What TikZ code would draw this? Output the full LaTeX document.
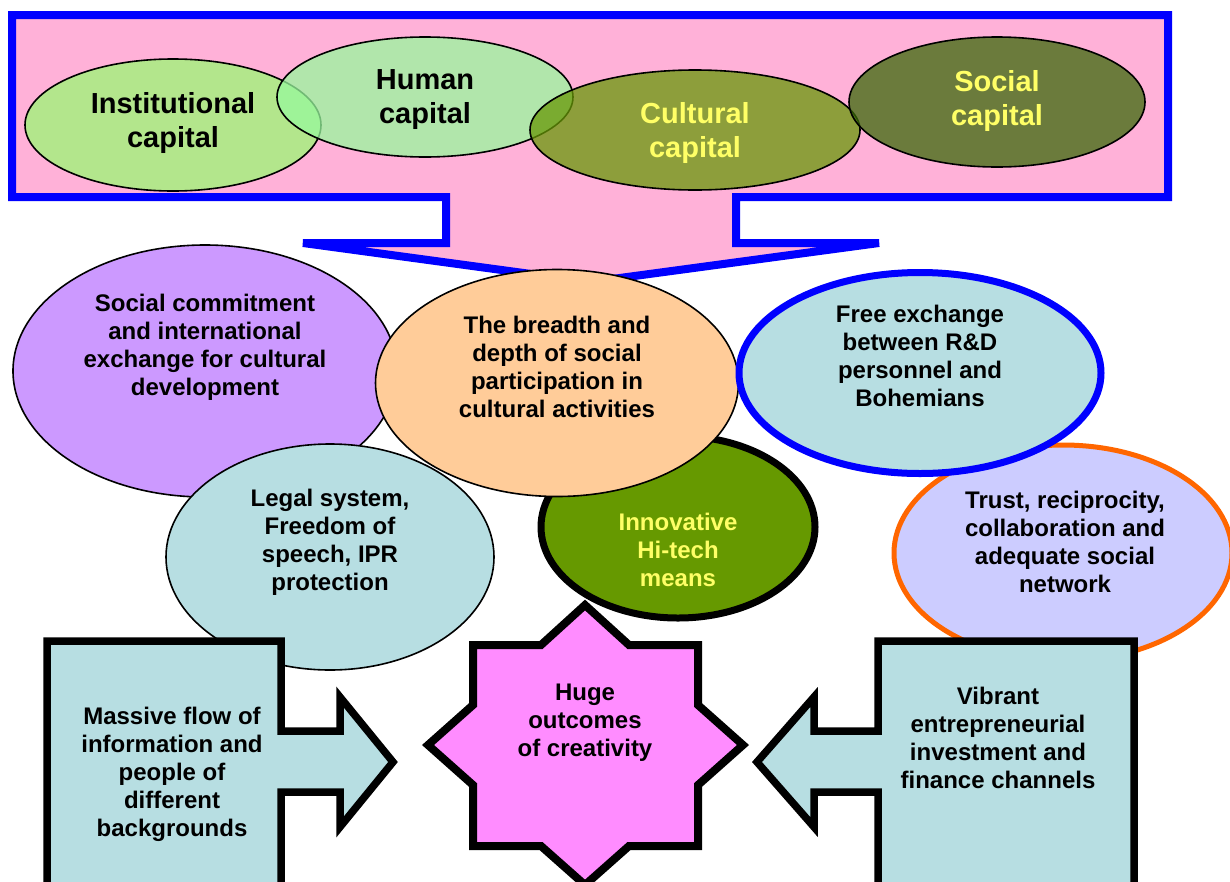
\documentclass[tikz,border=0pt]{standalone}
\usepackage{fontspec}
\setmainfont{Liberation Sans}
\usetikzlibrary{shapes.geometric}

\definecolor{calloutPink}{RGB}{255,177,216}
\definecolor{instFill}{RGB}{154,248,115}
\definecolor{humanFill}{RGB}{152,248,157}
\definecolor{cultFill}{RGB}{104,152,7}
\definecolor{socFill}{RGB}{58,105,8}
\definecolor{lilacFill}{RGB}{204,153,255}
\definecolor{peachFill}{RGB}{255,204,153}
\definecolor{paleBlue}{RGB}{183,222,226}
\definecolor{techGreen}{RGB}{102,153,0}
\definecolor{lavFill}{RGB}{204,204,255}
\definecolor{trustLine}{RGB}{255,102,0}
\definecolor{starPink}{RGB}{255,140,255}
\definecolor{capYellow}{RGB}{255,255,102}

\begin{document}
\begin{tikzpicture}
	[
		x=1pt, y=-1pt,
		capital/.style={
				ellipse,
				inner sep=0pt,
				draw=black,
				line width=1.6pt,
				fill opacity=0.75,
			},
		factor/.style={
				ellipse,
				inner sep=0pt,
				draw=black,
				line width=1.6pt,
			},
		feeder/.style={
				draw=black,
				line width=7.5pt,
				fill=paleBlue,
			},
		capText/.style={align=center, font=\fontsize{29}{34}\selectfont\bfseries},
		bodyText/.style={align=center, font=\fontsize{24}{28}\selectfont\bfseries},
	]
	\useasboundingbox (0,0) rectangle (1230,881);

	% callout with the four kinds of capital
	\draw [line width=8pt, draw=blue, fill=calloutPink]
		(12,15) -- (1168,15) -- (1168,197) -- (736,197) -- (736,243) -- (879,243)
		-- (590,282) -- (303,243) -- (446,243) -- (446,197) -- (12,197) -- cycle;

	\node (inst)  [capital, fill=instFill,  minimum width=296, minimum height=132] at (173,125) {};
	\node (human) [capital, fill=humanFill, minimum width=296, minimum height=120] at (425,97)  {};
	\node (cult)  [capital, fill=cultFill,  minimum width=330, minimum height=120] at (695,130) {};
	\node (soc)   [capital, fill=socFill,   minimum width=296, minimum height=130] at (997,102) {};

	% factors
	\node (commit)  [factor, fill=lilacFill, minimum width=384, minimum height=252] at (205,371) {};
	\node (legal)   [factor, fill=paleBlue,  minimum width=328, minimum height=226] at (330,557) {};
	\node (hitech)  [factor, fill=techGreen, line width=7pt, minimum width=274, minimum height=182] at (678,527) {};
	\node (breadth) [factor, fill=peachFill, minimum width=363, minimum height=227] at (557,383) {};
	\node (trust)   [factor, fill=lavFill, draw=trustLine, line width=5pt, minimum width=338, minimum height=216] at (1063,553) {};
	\node (rnd)     [factor, fill=paleBlue, draw=blue, line width=7pt, minimum width=362, minimum height=201] at (920,373) {};

	% arrows into the star
	\draw [feeder] (47,641) -- (281,641) -- (281,731) -- (340,731) -- (340,697) -- (393,762)
		-- (340,827) -- (340,792) -- (281,792) -- (281,895) -- (47,895) -- cycle;
	\draw [feeder] (1134,641) -- (878,641) -- (878,731) -- (814,731) -- (814,697) -- (757,762)
		-- (814,827) -- (814,792) -- (878,792) -- (878,895) -- (1134,895) -- cycle;
	\draw [draw=black, line width=8pt, fill=starPink]
		(585,605) -- (629,645) -- (698,645) -- (698,705) -- (743,745) -- (698,785)
		-- (698,846) -- (629,846) -- (585,885) -- (541,846) -- (473,846) -- (473,785)
		-- (428,745) -- (473,705) -- (473,645) -- (541,645) -- cycle;

	\begin{scope}[capText]
		\node at (inst)  [yshift=2]  {Institutional\\capital};
		\node at (human) [yshift=-3] {Human\\capital};
		\node at (cult)  [yshift=-3, capYellow] {Cultural\\capital};
		\node at (soc)   [yshift=1,  capYellow] {Social\\capital};
	\end{scope}

	\begin{scope}[bodyText]
		\node at (commit)  [yshift=24]  {Social commitment\\and international\\exchange for cultural\\development};
		\node at (breadth) [yshift=16]  {The breadth and\\depth of social\\participation in\\cultural activities};
		\node at (rnd)     [yshift=17]  {Free exchange\\between R\&D\\personnel and\\Bohemians};
		\node at (legal)   [yshift=15]  {Legal system,\\Freedom of\\speech, IPR\\protection};
		\node at (hitech)  [yshift=-23, capYellow] {Innovative\\Hi-tech\\means};
		\node at (trust)   [yshift=11, xshift=2] {Trust, reciprocity,\\collaboration and\\adequate social\\network};
		\node (outcome) at (585,723) {Huge\\outcomes\\of creativity};
		\node (flow)    at (172,774) {Massive flow of\\information and\\people of\\different\\backgrounds};
		\node (finance) at (998,738) {Vibrant\\entrepreneurial\\investment and\\finance channels};
	\end{scope}
\end{tikzpicture}
\end{document}
